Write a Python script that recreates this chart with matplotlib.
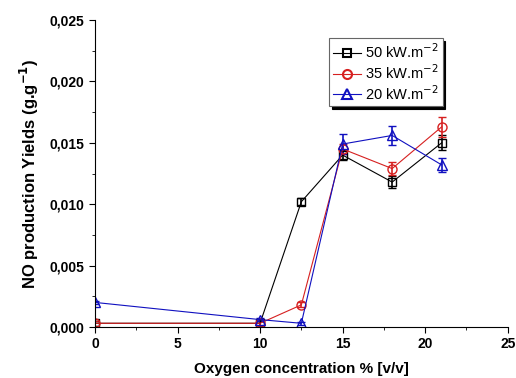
import matplotlib
matplotlib.use("Agg")
import matplotlib.pyplot as plt
from matplotlib.lines import Line2D
from matplotlib.ticker import MultipleLocator, FuncFormatter

plt.rcParams['font.family'] = ['Liberation Sans', 'DejaVu Sans']

x = [0, 10, 12.5, 15, 18, 21]
y50 = [0.0003, 0.0003, 0.0102, 0.0140, 0.0118, 0.0150]
e50 = [0.0002, 0.0002, 0.0003, 0.0004, 0.0005, 0.0006]
y35 = [0.0003, 0.0003, 0.0018, 0.0145, 0.0129, 0.0163]
e35 = [0.0002, 0.0002, 0.0002, 0.0004, 0.0005, 0.0008]
y20 = [0.0020, 0.0006, 0.0003, 0.0149, 0.0156, 0.0132]
e20 = [0.0001, 0.0001, 0.0001, 0.0008, 0.0008, 0.0006]
labels = ['50 kW.m$^{-2}$', '35 kW.m$^{-2}$', '20 kW.m$^{-2}$']

fig = plt.figure(figsize=(5.16, 3.78), dpi=100)
ax = fig.add_axes([0.184, 0.135, 0.800, 0.812])

series = [(y50, e50, 'black', 's', 6), (y35, e35, '#d62020', 'o', 6.5), (y20, e20, '#1010c0', '^', 7)]
handles = []
for (yy, ee, c, m, ms), lab in zip(series, labels):
    ax.errorbar(x, yy, yerr=ee, color=c, marker=m, mfc='none', mec=c,
                ms=ms, lw=0.8, capsize=3, elinewidth=1.2)
    handles.append(Line2D([], [], color=c, marker=m, mfc='none', mec=c, ms=ms, lw=0.8, mew=1.5,
                          label=lab))

ax.set_xlim(0, 25)
ax.set_ylim(0, 0.025)
ax.xaxis.set_major_locator(MultipleLocator(5))
ax.xaxis.set_minor_locator(MultipleLocator(2.5))
ax.yaxis.set_major_locator(MultipleLocator(0.005))
ax.yaxis.set_minor_locator(MultipleLocator(0.0025))
ax.yaxis.set_major_formatter(FuncFormatter(lambda v, p: f"{v:.3f}".replace('.', ',')))
ax.xaxis.set_major_formatter(FuncFormatter(lambda v, p: f"{v:.0f}"))
for s in ['top', 'right']:
    ax.spines[s].set_visible(False)
ax.tick_params(which='major', direction='out', length=4, labelsize=10)
ax.tick_params(which='minor', direction='out', length=2.5)
for lbl in ax.get_xticklabels() + ax.get_yticklabels():
    lbl.set_fontweight('bold')

ax.set_xlabel('Oxygen concentration % [v/v]', fontsize=11, fontweight='bold', labelpad=8)
ax.set_ylabel('NO production Yields (g.g$^{\\mathbf{-1}}$)', fontsize=12, fontweight='bold', labelpad=6)

leg = ax.legend(handles=handles, loc='upper left', bbox_to_anchor=(0.568, 0.94), fontsize=10.5,
                frameon=True, shadow={'color': 'black', 'alpha': 1}, fancybox=False,
                edgecolor='#666666', handlelength=1.9, handletextpad=0.3, borderpad=0.25,
                labelspacing=0.15, borderaxespad=0)
leg.get_frame().set_linewidth(0.8)

fig.savefig('out.png', dpi=100)
